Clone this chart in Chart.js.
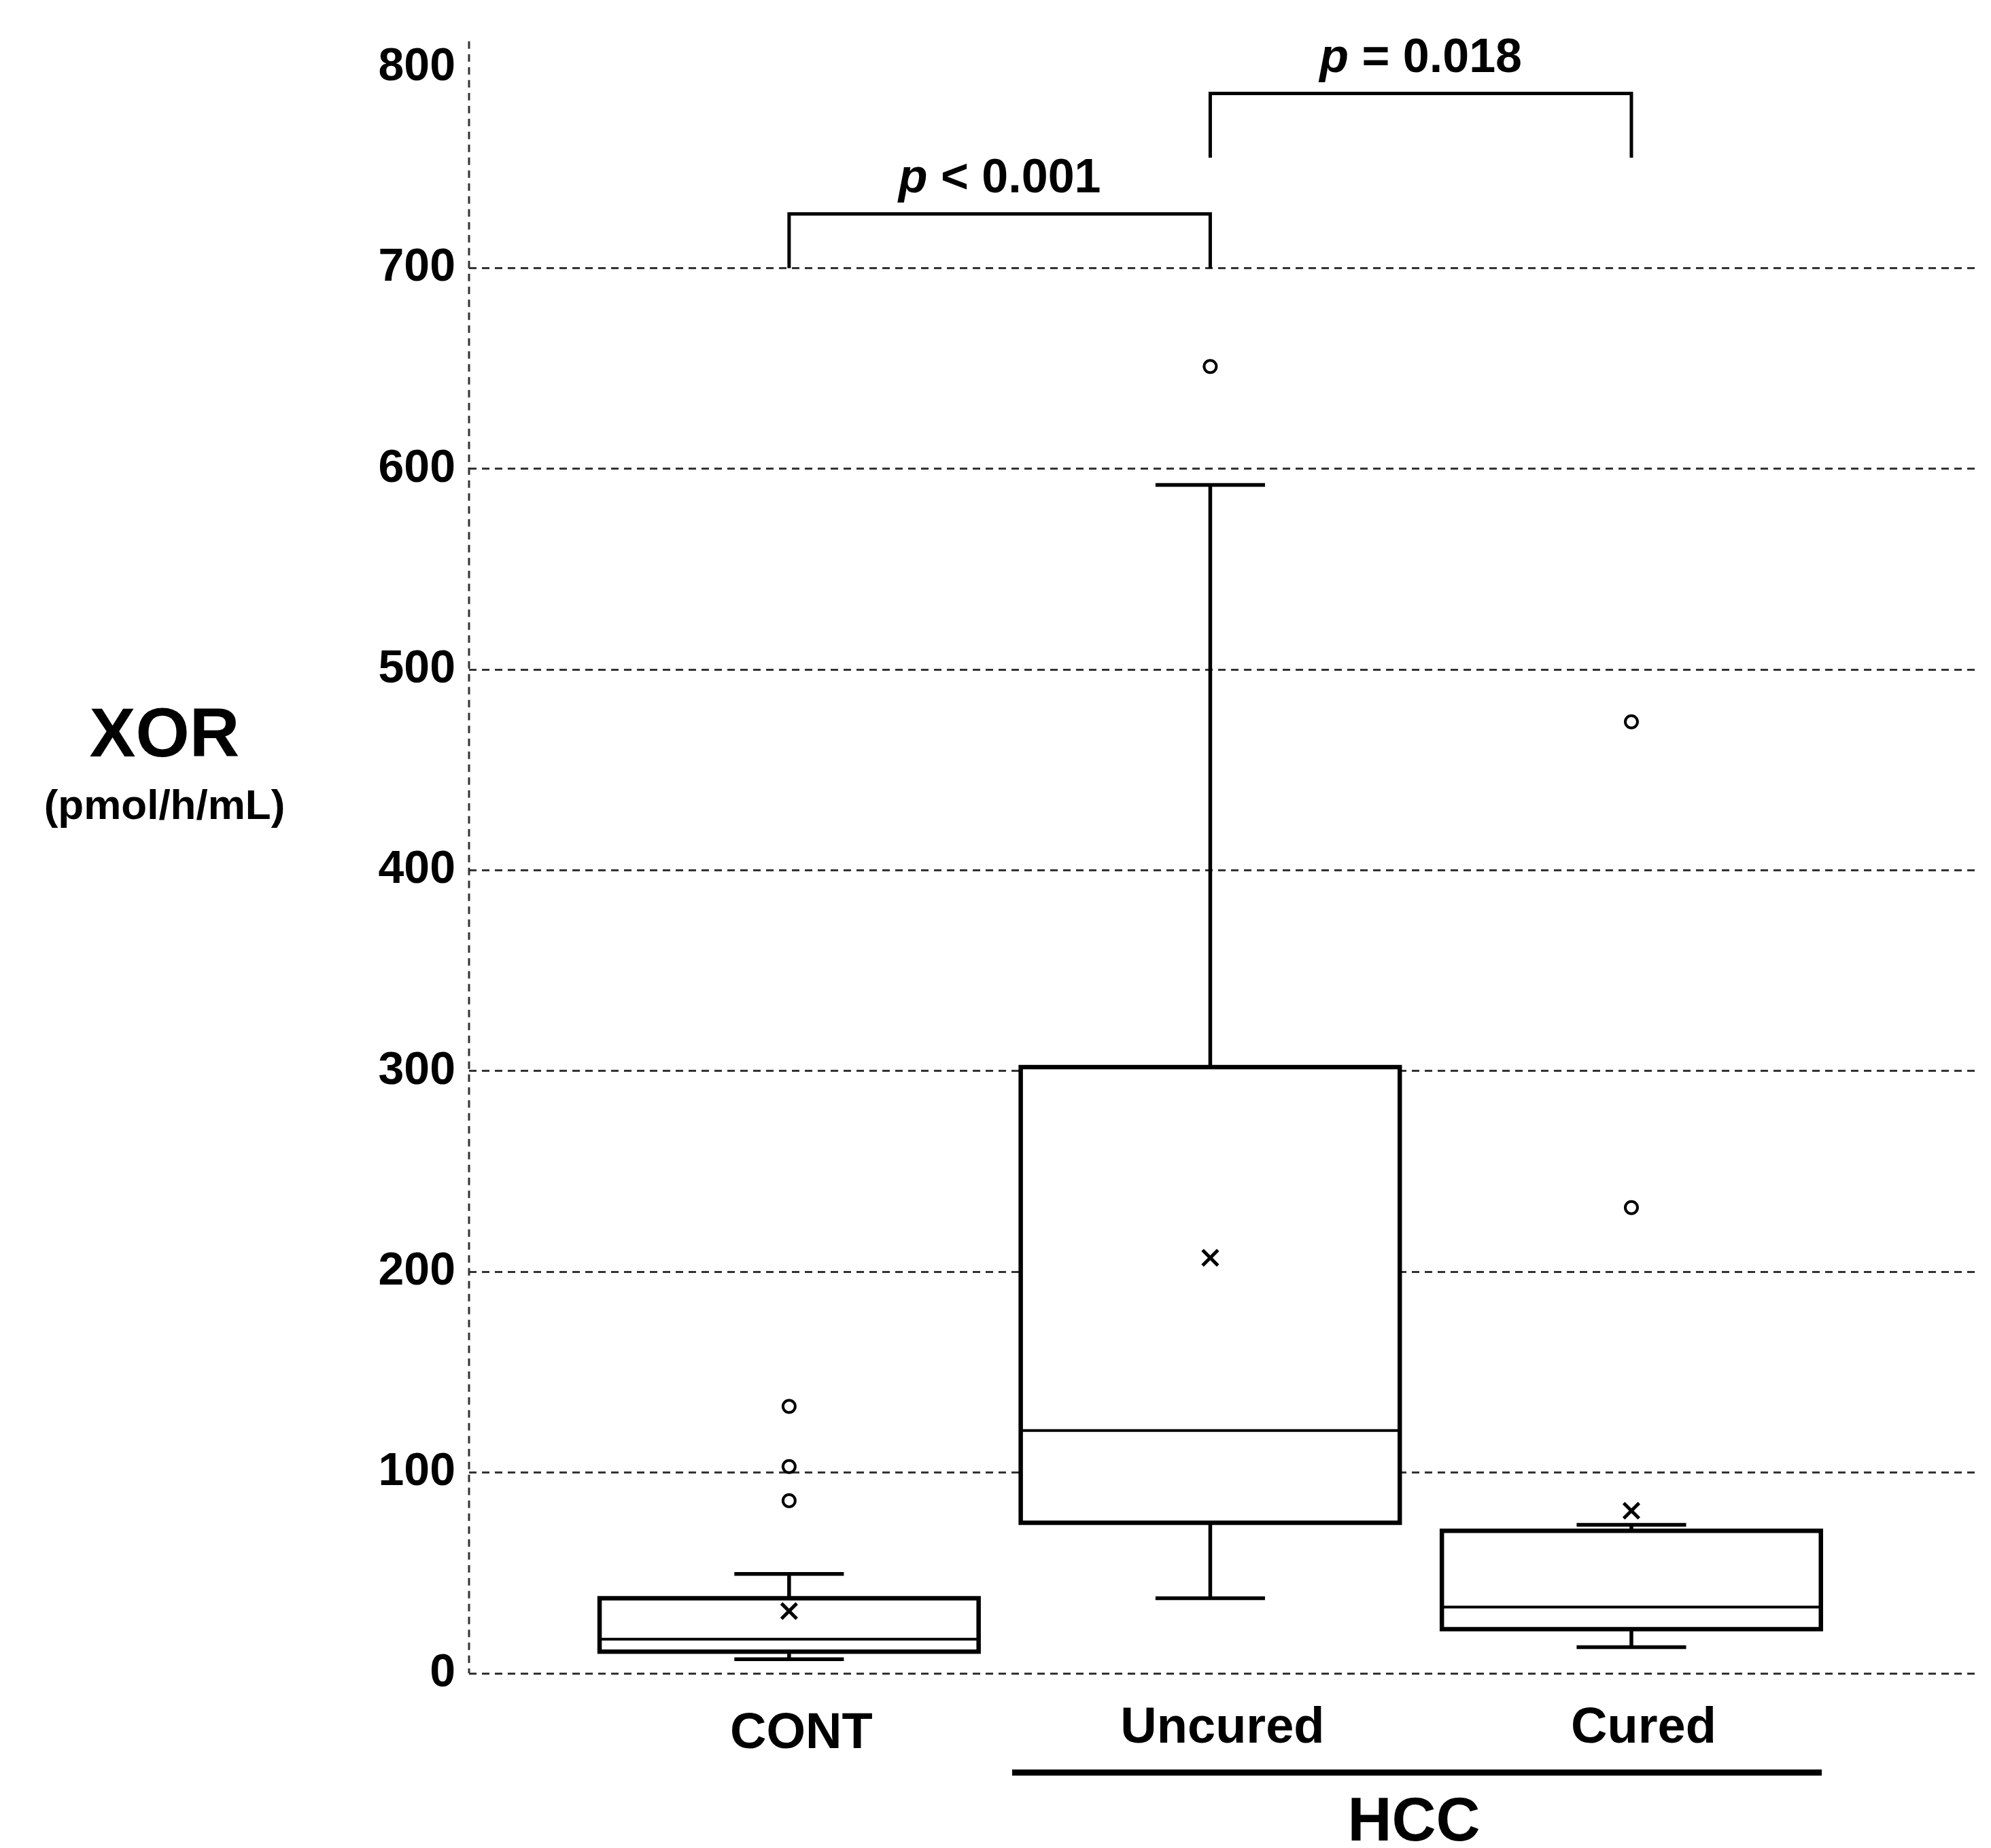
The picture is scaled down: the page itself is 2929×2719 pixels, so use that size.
<!DOCTYPE html>
<html><head><meta charset="utf-8">
<script src="https://cdn.jsdelivr.net/npm/chart.js@4/dist/chart.umd.min.js"></script>
<style>html,body{margin:0;padding:0;background:#fff}</style>
</head><body>
<canvas id="c" width="2929" height="2719"></canvas>
<script>
const categories = ["CONT", "Uncured", "Cured"];
const groupLabel = "HCC";
const q1 = [10.8, 75, 22];
const median = [17, 121, 33];
const q3 = [37.4, 302, 71];
const whiskerLow = [7, 37.4, 13];
const whiskerHigh = [49.5, 592, 74];
const means = [31, 207, 81];
const outliers = [[133, 103, 86], [651], [232, 474]];
const yTicks = [0, 100, 200, 300, 400, 500, 600, 700, 800];
const comparisons = [
  {from: 1, to: 2, base: 700, top: 727, text: "< 0.001"},
  {from: 2, to: 3, base: 755, top: 787, text: "= 0.018"}
];

const F = 'Arial, "Liberation Sans", sans-serif';
const outlierPts = [];
outliers.forEach((arr, i) => arr.forEach(v => outlierPts.push({x: i + 1, y: v})));
const meanPts = means.map((v, i) => ({x: i + 1, y: v}));

const boxPlugin = {
  id: 'box',
  beforeDatasetsDraw(chart) {
    const ctx = chart.ctx, xs = chart.scales.x, ys = chart.scales.y;
    const half = 0.45, cap = 0.13;
    ctx.save();
    ctx.strokeStyle = '#000';
    // dashed y axis line
    ctx.lineWidth = 3; ctx.strokeStyle = '#333'; ctx.setLineDash([11, 8]);
    ctx.beginPath(); ctx.moveTo(chart.chartArea.left, chart.chartArea.top); ctx.lineTo(chart.chartArea.left, chart.chartArea.bottom); ctx.stroke();
    ctx.setLineDash([]);
    ctx.strokeStyle = '#000';
    categories.forEach((c, i) => {
      const v = i + 1;
      const xl = xs.getPixelForValue(v - half), xr = xs.getPixelForValue(v + half);
      const xc = xs.getPixelForValue(v);
      const cl = xs.getPixelForValue(v - cap), cr = xs.getPixelForValue(v + cap);
      const yq1 = ys.getPixelForValue(q1[i]), yq3 = ys.getPixelForValue(q3[i]);
      const ym = ys.getPixelForValue(median[i]);
      const yl = ys.getPixelForValue(whiskerLow[i]), yh = ys.getPixelForValue(whiskerHigh[i]);
      ctx.lineWidth = 5.5;
      ctx.beginPath();
      ctx.moveTo(xc, yq3); ctx.lineTo(xc, yh);
      ctx.moveTo(cl, yh); ctx.lineTo(cr, yh);
      ctx.moveTo(xc, yq1); ctx.lineTo(xc, yl);
      ctx.moveTo(cl, yl); ctx.lineTo(cr, yl);
      ctx.stroke();
      ctx.fillStyle = '#fff';
      ctx.fillRect(xl, yq3, xr - xl, yq1 - yq3);
      ctx.lineWidth = 6.5;
      ctx.strokeRect(xl, yq3, xr - xl, yq1 - yq3);
      ctx.lineWidth = 4;
      ctx.beginPath(); ctx.moveTo(xl, ym); ctx.lineTo(xr, ym); ctx.stroke();
    });
    ctx.restore();
  },
  afterDraw(chart) {
    const ctx = chart.ctx, xs = chart.scales.x, ys = chart.scales.y;
    ctx.save();
    ctx.fillStyle = '#000'; ctx.strokeStyle = '#000';
    ctx.textAlign = 'center'; ctx.textBaseline = 'middle';
    ctx.font = 'bold 102px ' + F;
    ctx.fillText('XOR', 242, 1085);
    ctx.font = 'bold 62px ' + F;
    ctx.fillText('(pmol/h/mL)', 242, 1188);
    ctx.font = 'bold 74px ' + F;
    categories.forEach((c, i) => {
      const yy = i === 0 ? 2552 : 2544;
      ctx.fillText(c, xs.getPixelForValue(i + 1) + 18, yy);
    });
    ctx.lineWidth = 9;
    ctx.beginPath(); ctx.moveTo(1489, 2608); ctx.lineTo(2680, 2608); ctx.stroke();
    ctx.font = 'bold 90px ' + F;
    ctx.fillText(groupLabel, 2080, 2683);
    ctx.lineWidth = 5;
    comparisons.forEach(cmp => {
      const x1 = xs.getPixelForValue(cmp.from), x2 = xs.getPixelForValue(cmp.to);
      const yb = ys.getPixelForValue(cmp.base), yt = ys.getPixelForValue(cmp.top);
      ctx.beginPath();
      ctx.moveTo(x1, yb); ctx.lineTo(x1, yt); ctx.lineTo(x2, yt); ctx.lineTo(x2, yb);
      ctx.stroke();
      const mid = (x1 + x2) / 2;
      ctx.font = 'italic bold 70px ' + F;
      const pw = ctx.measureText('p ').width;
      ctx.font = 'bold 70px ' + F;
      const tw = ctx.measureText(cmp.text).width;
      const start = mid - (pw + tw) / 2;
      ctx.textAlign = 'left'; ctx.textBaseline = 'alphabetic';
      ctx.font = 'italic bold 70px ' + F;
      ctx.fillText('p', start, yt - 32);
      ctx.font = 'bold 70px ' + F;
      ctx.fillText(cmp.text, start + pw, yt - 32);
      ctx.textAlign = 'center';
    });
    ctx.restore();
  }
};

new Chart(document.getElementById('c'), {
  type: 'scatter',
  data: {
    datasets: [
      {data: outlierPts, pointStyle: 'circle', pointRadius: 9, borderColor: '#000', borderWidth: 4, backgroundColor: '#fff', order: 1},
      {data: meanPts, pointStyle: 'crossRot', pointRadius: 16, borderColor: '#000', borderWidth: 5, order: 0}
    ]
  },
  options: {
    responsive: false,
    animation: false,
    devicePixelRatio: 1,
    layout: {padding: {top: 38, bottom: 257, right: 19, left: 0}},
    plugins: {legend: {display: false}, tooltip: {enabled: false}},
    scales: {
      x: {type: 'linear', min: 0.24, max: 3.82, display: false},
      y: {
        min: 0, max: 813,
        afterFit(s) { s.width = 690; },
        afterBuildTicks(s) { s.ticks = yTicks.map(v => ({value: v})); },
        ticks: {font: {family: F, size: 68, weight: 'bold'}, color: '#000', padding: 20},
        grid: {
          drawTicks: false,
          color: ctx => (ctx.tick && ctx.tick.value === 800) ? 'rgba(0,0,0,0)' : '#333',
          lineWidth: 3
        },
        border: {display: false, dash: [11, 8]}
      }
    }
  },
  plugins: [boxPlugin, {
    id: 'gridDash',
    beforeDraw(chart) { chart.options.scales.y.grid.borderDash = [11, 8]; }
  }]
});
</script>
</body></html>
